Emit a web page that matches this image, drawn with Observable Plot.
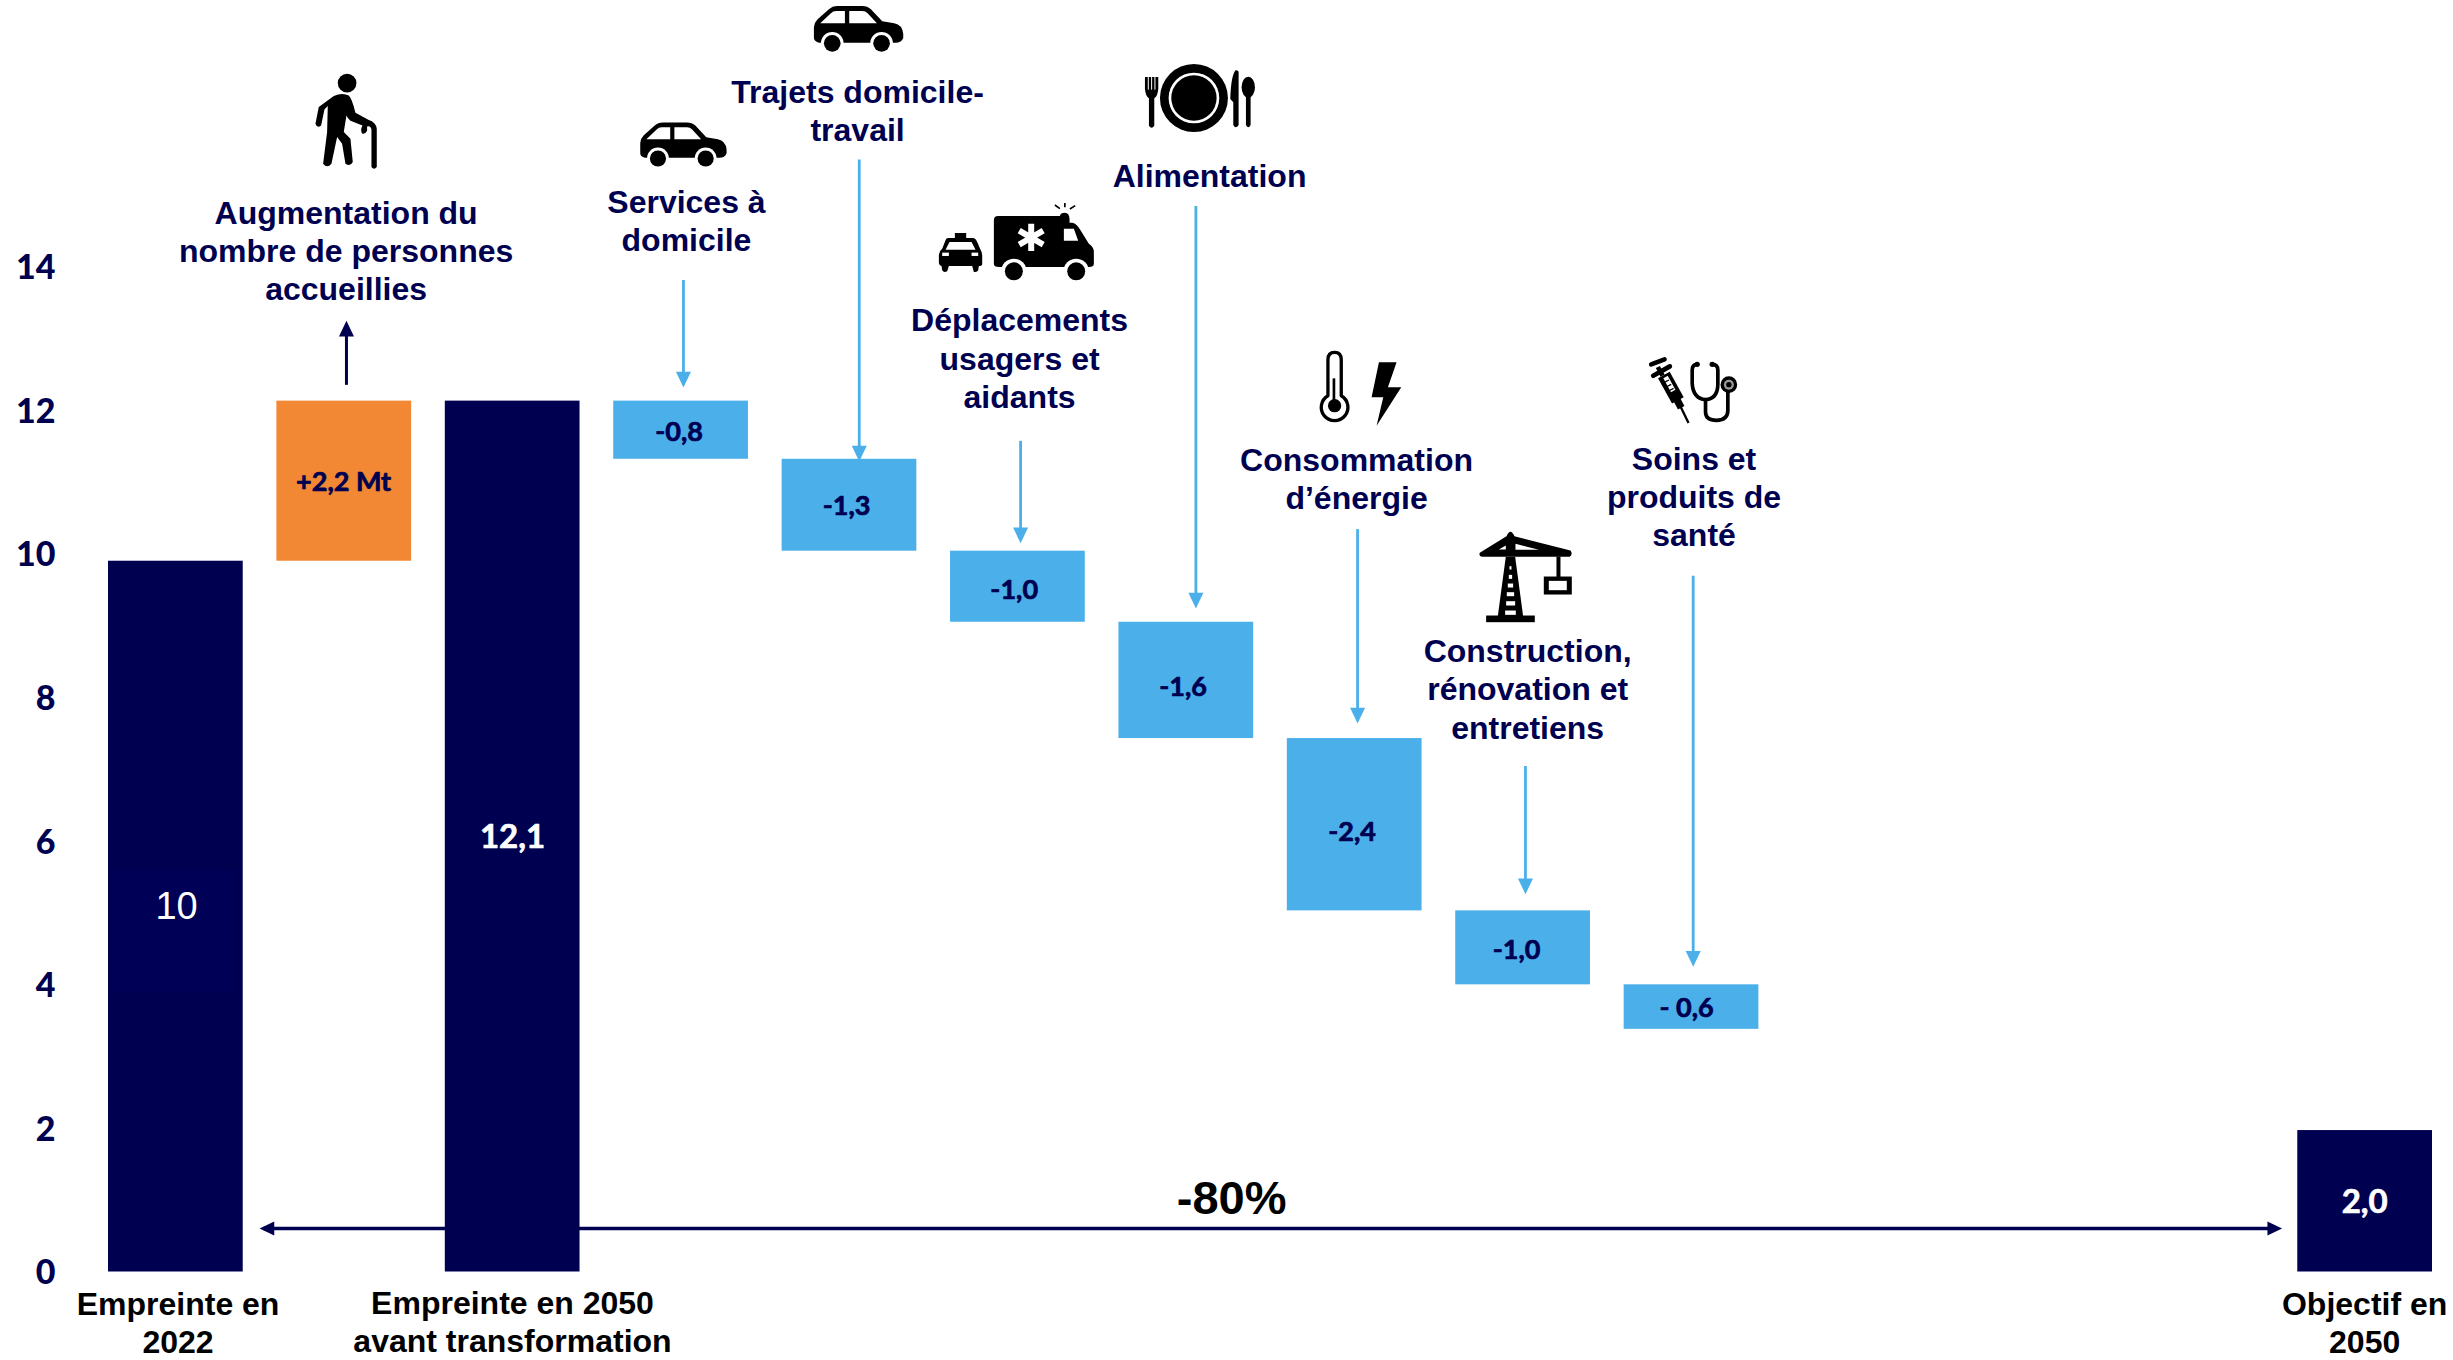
<!DOCTYPE html>
<html lang="fr">
<head>
<meta charset="utf-8">
<style>html,body{margin:0;padding:0;background:#fff}svg{display:block}</style>
<script src="https://cdn.jsdelivr.net/npm/d3@7"></script>
<script src="https://cdn.jsdelivr.net/npm/@observablehq/plot@0.6"></script>
</head>
<body>
<div id="chart"></div>
<script>
// --- values ---
const barSlots   = [0, 1, 2, 3, 4, 5, 6, 7, 8, 9, 13];
const barBottoms = [0, 9.9, 0, 11.32, 10.04, 9.05, 7.43, 5.03, 4.0, 3.38, 0];
const barTops    = [9.9, 12.13, 12.13, 12.13, 11.32, 10.04, 9.05, 7.43, 5.03, 4.0, 1.97];
const barKinds   = ["total","hausse","total","baisse","baisse","baisse","baisse","baisse","baisse","baisse","total"];
const yTicks     = [0, 2, 4, 6, 8, 10, 12, 14];

const valueTexts = ["+2,2 Mt","-0,8","-1,3","-1,0","-1,6","-2,4","-1,0","- 0,6"];
const valueX     = [1.396, 3.388, 4.383, 5.378, 6.381, 7.384, 8.361, 9.371];
const valueY     = [11.0, 11.69, 10.66, 9.49, 8.15, 6.12, 4.48, 3.67];
const totalTexts = ["12,1","2,0"];
const totalX     = [2.399, 13.397];
const totalY     = [6.05, 0.97];

const stepTexts = [
  "Augmentation du\nnombre de personnes\naccueillies",
  "Services à\ndomicile",
  "Trajets domicile-\ntravail",
  "Déplacements\nusagers et\naidants",
  "Alimentation",
  "Consommation\nd’énergie",
  "Construction,\nrénovation et\nentretiens",
  "Soins et\nproduits de\nsanté"
];
const stepX = [1.411, 3.432, 4.448, 5.41, 6.538, 7.411, 8.427, 9.415];
const stepY = [14.24, 14.66, 16.19, 12.74, 15.28, 11.06, 8.13, 10.81];

const axisTexts = ["Empreinte en\n2022","Empreinte en 2050\navant transformation","Objectif en\n2050"];
const axisX = [0.413, 2.399, 13.397];
const axisY = [-0.70, -0.68, -0.69];

const arrowX    = [3.414, 4.458, 5.416, 6.457, 7.417, 8.414, 9.410];
const arrowFrom = [13.81, 15.49, 11.57, 14.84, 10.34, 7.04, 9.69];
const arrowTip  = [12.32, 11.29, 10.15, 9.24, 7.64, 5.26, 4.25];

// --- colours ---
const NAVY = "#000050", BLUE = "#4bafea", ORANGE = "#f28734";
const SANS = "'Liberation Sans', Arial, sans-serif", LATO = "Lato, sans-serif";

// --- pictograms ---
const B = "#000";
const carSvg = `<path fill="${B}" d="M25 80Q26 66 36 56L70 26Q80 16 96 16L170 16Q186 16 196 26L230 62L266 68Q290 72 293 100L293 112Q288 126 270 126L40 126Q24 122 25 110Z"/>
<path fill="#fff" d="M44 68L76 38Q82 31 92 31L118 31L118 68ZM131 31L170 31Q180 31 186 38L214 68L131 68Z"/>
<circle cx="80" cy="128" r="34" fill="#fff"/><circle cx="228" cy="128" r="34" fill="#fff"/>
<circle cx="80" cy="128" r="25" fill="${B}"/><circle cx="228" cy="128" r="25" fill="${B}"/>`;
const walkerSvg = `<circle cx="140" cy="53" r="28" fill="${B}"/>
<path fill="${B}" d="M100 92Q125 80 145 90Q155 100 165 142L205 164Q226 170 229 190L229 305Q221 315 213 305L213 192Q210 180 200 183L200 196Q195 207 186 205Q178 196 186 180L150 166Q141 158 138 150L130 200L150 220L157 290Q150 305 135 295L125 235L110 215L93 295Q80 310 68 295L80 200L82 122L72 132L62 180Q50 190 45 175L55 125Z"/>`;
const ambulanceSvg = `<path fill="${B}" d="M68 128L88 128L88 113L122 113L122 128L142 128Q150 128 155 140L165 163Q170 170 170 180L170 206Q170 212 160 212L158 225Q155 232 145 230L140 212L70 212L65 228Q55 234 50 225L48 212Q40 210 40 200L40 178Q42 165 50 160L60 135Q62 128 68 128Z"/>
<path fill="#fff" d="M72 140L138 140L150 163L60 163Z"/><rect x="50" y="172" width="20" height="10" fill="#fff"/><rect x="138" y="172" width="20" height="10" fill="#fff"/>
<path fill="${B}" d="M218 62L403 62L403 62Q405 52 418 52Q431 52 432 70L432 82L440 82Q455 85 465 105L490 145Q505 155 505 170L505 205Q505 215 490 215L220 215Q205 215 205 205L205 75Q205 62 218 62Z"/>
<path fill="#fff" d="M415 100L445 100L458 136L415 136Z"/>
<g stroke="#fff" stroke-width="18"><path d="M317 85V167M281 106L353 148M281 148L353 106"/></g>
<circle cx="265" cy="228" r="38" fill="#fff"/><circle cx="452" cy="228" r="38" fill="#fff"/>
<circle cx="265" cy="228" r="27" fill="${B}"/><circle cx="452" cy="228" r="27" fill="${B}"/>
<g stroke="${B}" stroke-width="5"><path d="M403 40L388 29M418 36V23M433 41L449 31"/></g>`;
const plateSvg = `<circle cx="175" cy="127" r="102" fill="${B}"/><circle cx="175" cy="127" r="76" fill="#fff"/><circle cx="175" cy="127" r="68" fill="${B}"/>
<path fill="${B}" d="M28 64H68V100Q66 122 56 128L56 210Q48 222 40 210L40 128Q30 122 28 100Z"/>
<path stroke="#fff" stroke-width="3" d="M38 64V102M48 64V102M58 64V102"/>
<path fill="${B}" d="M300 44Q286 60 284 130L293 140L293 208Q300 222 309 208L309 48Q306 42 300 44Z"/>
<ellipse cx="338" cy="95" rx="20" ry="32" fill="${B}"/><path fill="${B}" d="M331 120H345V208Q338 222 331 208Z"/>`;
const thermoSvg = `<path fill="#fff" stroke="${B}" stroke-width="10" stroke-linejoin="round" d="M52 150L52 42Q52 20 72 20Q92 20 92 42L92 150A40 40 0 1 1 52 150Z"/>
<circle cx="72" cy="180" r="20" fill="${B}"/><rect x="66" y="98" width="8" height="70" fill="${B}"/>
<path fill="${B}" d="M205 50L258 50L232 125L272 125L198 240L218 155L183 155Z"/>`;
const medicSvg = `<g fill="none" stroke="${B}"><path stroke-width="14" stroke-linecap="round" d="M32 42L72 27M38 76L88 48"/><path stroke-width="14" d="M52 50L66 76"/><path stroke-width="40" d="M70 74L112 150"/><path stroke-width="7" d="M116 160L144 218"/><path stroke-width="22" d="M108 146L122 172"/>
<path stroke-width="11" d="M170 42Q155 42 155 60L155 100Q158 145 195 148Q232 145 232 100L232 60Q232 42 215 42M195 148L195 185Q195 210 228 210Q262 210 262 180L262 125"/></g>
<path stroke="#fff" stroke-width="15" d="M75 80L98 122"/><path stroke="${B}" stroke-width="4" d="M70 97L85 89M77 110L92 102M84 122L99 114"/>
<circle cx="170" cy="42" r="8" fill="${B}"/><circle cx="215" cy="42" r="8" fill="${B}"/>
<circle cx="265" cy="103" r="25" fill="${B}"/><circle cx="265" cy="103" r="15" fill="#999"/><circle cx="265" cy="103" r="8" fill="${B}"/>`;
const craneSvg = `<path fill="${B}" d="M28 82L108 32Q120 5 132 32L300 75Q308 85 298 94L36 94Q24 92 28 82Z"/>
<path fill="#fff" d="M85 72L106 60L106 72ZM135 55L205 73L135 73Z"/>
<path fill="${B}" d="M106 94L134 94L158 272L82 272Z"/><rect x="47" y="270" width="146" height="20" fill="${B}"/>
<g fill="#fff"><rect x="117" y="122" width="6" height="10"/><rect x="115" y="148" width="10" height="12"/><rect x="112" y="174" width="16" height="12"/><rect x="109" y="200" width="22" height="12"/><rect x="107" y="227" width="27" height="13"/><rect x="104" y="255" width="32" height="13"/></g>
<rect x="258" y="93" width="12" height="62" fill="${B}"/><rect x="220" y="153" width="84" height="54" fill="${B}"/><rect x="235" y="166" width="54" height="28" fill="#fff"/>`;
const uri = (w, h, body) => "data:image/svg+xml," + encodeURIComponent(`<svg xmlns="http://www.w3.org/2000/svg" viewBox="0 0 ${w} ${h}">${body}</svg>`);
const icons = [
  {x: 1.407, y: 16.04, w: 90,  h: 110, src: uri(270, 330, walkerSvg)},
  {x: 3.411, y: 15.68, w: 102, h: 58,  src: uri(315, 180, carSvg)},
  {x: 4.451, y: 17.29, w: 105, h: 60,  src: uri(315, 180, carSvg)},
  {x: 5.386, y: 14.37, w: 180, h: 90,  src: uri(540, 270, ambulanceSvg)},
  {x: 6.485, y: 16.35, w: 130, h: 85,  src: uri(390, 255, plateSvg)},
  {x: 7.435, y: 12.31, w: 100, h: 85,  src: uri(300, 255, thermoSvg)},
  {x: 9.409, y: 12.28, w: 105, h: 80,  src: uri(315, 240, medicSvg)},
  {x: 8.414, y: 9.666, w: 110, h: 105, src: uri(330, 315, craneSvg)}
];

// --- tables for the marks ---
const bars = barSlots.map((s, i) => ({s, y1: barBottoms[i], y2: barTops[i], kind: barKinds[i]}));
const zip = (t, x, y) => t.map((text, i) => ({text, x: x[i], y: y[i]}));
const arrows = arrowX.map((x, i) => ({x, from: arrowFrom[i], tip: arrowTip[i]}));
// narrow filled head, tip at the anchor, pointing down before rotation
const head = {draw(c, size) { const r = Math.sqrt(size / Math.PI); c.moveTo(0, 0); c.lineTo(-r, -2.1 * r); c.lineTo(r, -2.1 * r); c.closePath(); }};
const fillOf = {total: NAVY, hausse: ORANGE, baisse: BLUE};

const chart = Plot.plot({
  width: 2453, height: 1360,
  marginLeft: 108, marginRight: 21, marginTop: 0, marginBottom: 88.5,
  x: {type: "linear", domain: [0, 13.8], axis: null},
  y: {type: "linear", domain: [0, 17.71]},
  style: {background: "#fff", overflow: "visible"},
  marks: [
    Plot.axisY({ticks: yTicks, tickSize: 0, tickPadding: 53, label: null, tickFormat: d => String(d),
      fontFamily: LATO, fontWeight: 900, fontSize: 34, color: NAVY, dy: 1.5}),
    // long bracket arrow passes behind the second total bar
    Plot.ruleY([0.606], {x1: 0.92, x2: 12.88, stroke: NAVY, strokeWidth: 3.5}),
    Plot.dot([{x: 0.897, y: 0.606, rot: 90}, {x: 12.907, y: 0.606, rot: -90}],
      {x: "x", y: "y", symbol: head, r: 7, fill: NAVY, stroke: "none", rotate: "rot"}),
    Plot.rect(bars, {x1: "s", x2: d => d.s + 0.8, y1: "y1", y2: "y2", fill: d => fillOf[d.kind]}),
    Plot.rect([{a: 0.03, b: 0.76, c: 3.89, d: 5.59}], {x1: "a", x2: "b", y1: "c", y2: "d", fill: "#000056"}),
    // connector arrows
    Plot.ruleX([1.413], {y1: 12.35, y2: 13.1, stroke: NAVY, strokeWidth: 3}),
    Plot.dot([{x: 1.413, y: 13.25}], {x: "x", y: "y", symbol: head, r: 7.5, fill: NAVY, stroke: "none", rotate: 180}),
    Plot.ruleX(arrows, {x: "x", y1: "from", y2: d => d.tip + 0.1, stroke: BLUE, strokeWidth: 2.8}),
    Plot.dot(arrows, {x: "x", y: "tip", symbol: head, r: 7.5, fill: BLUE, stroke: "none"}),
    // pictograms
    Plot.image(icons, {x: "x", y: "y", width: d => d.w, height: d => d.h, src: "src"}),
    // texts
    Plot.text(zip(stepTexts, stepX, stepY), {x: "x", y: "y", text: "text", fill: NAVY, fontFamily: SANS, fontWeight: "bold", fontSize: 32, lineHeight: 1.19}),
    Plot.text(zip(axisTexts, axisX, axisY), {x: "x", y: "y", text: "text", fill: "#000", fontFamily: SANS, fontWeight: "bold", fontSize: 32, lineHeight: 1.19}),
    Plot.text(zip(valueTexts, valueX, valueY), {x: "x", y: "y", text: "text", fill: NAVY, stroke: NAVY, strokeWidth: 0.7, fontFamily: LATO, fontWeight: "bold", fontSize: 27}),
    Plot.text(zip(totalTexts, totalX, totalY), {x: "x", y: "y", text: "text", fill: "#fff", stroke: "#fff", strokeWidth: 0.7, fontFamily: LATO, fontWeight: "bold", fontSize: 33}),
    Plot.text([{text: "10", x: 0.404, y: 5.09}], {x: "x", y: "y", text: "text", fill: "#fff", fontFamily: SANS, fontSize: 38}),
    Plot.text([{text: "-80%", x: 6.669, y: 1.02}], {x: "x", y: "y", text: "text", fill: "#000", fontFamily: SANS, fontWeight: "bold", fontSize: 47})
  ]
});
document.getElementById("chart").appendChild(chart);
</script>
</body>
</html>
